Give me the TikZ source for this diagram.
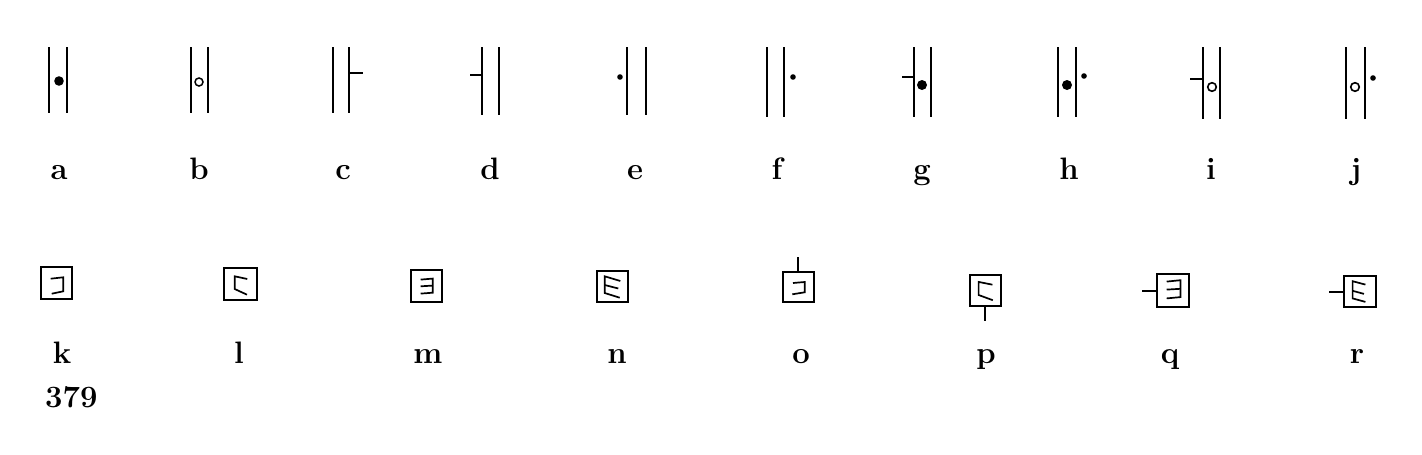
\documentclass[tikz,border=0pt]{standalone}
\begin{document}
\begin{tikzpicture}[x=1pt,y=-1pt,
  bar/.style={line width=2pt},
  tickline/.style={line width=1.8pt},
  sq/.style={line width=2pt},
  inr/.style={line width=1.7pt},
  lab/.style={font=\fontsize{31}{33}\selectfont\bfseries, anchor=base, inner sep=0pt}]
\useasboundingbox (0,0) rectangle (1422,455);
% ---------- top row ----------
% a
\draw[bar] (49,47) -- (49,113) (67,47) -- (67,113);
\fill (59,81) circle (4.8);
% b
\draw[bar] (191,47) -- (191,113) (208,47) -- (208,113);
\draw[line width=1.5pt] (199,82) circle (4);
% c
\draw[bar] (333,47) -- (333,113) (349,47) -- (349,113);
\draw[tickline] (349,73) -- (363,73);
% d
\draw[tickline] (470,75) -- (482,75);
\draw[bar] (482,47) -- (482,115) (499,47) -- (499,115);
% e
\fill (620,77) circle (2.8);
\draw[bar] (627,47) -- (627,115) (646,47) -- (646,115);
% f
\draw[bar] (767,47) -- (767,117) (784,47) -- (784,117);
\fill (793,77) circle (2.8);
% g
\draw[tickline] (902,77) -- (914,77);
\draw[bar] (914,47) -- (914,117) (931,47) -- (931,117);
\fill (922,85) circle (5);
% h
\draw[bar] (1058,47) -- (1058,117) (1076,47) -- (1076,117);
\fill (1067,85) circle (5);
\fill (1084,76) circle (2.8);
% i
\draw[tickline] (1190,79) -- (1203,79);
\draw[bar] (1203,47) -- (1203,119) (1220,47) -- (1220,119);
\draw[line width=1.6pt] (1212,87) circle (4.3);
% j
\draw[bar] (1346,47) -- (1346,119) (1365,47) -- (1365,119);
\draw[line width=1.6pt] (1355,87) circle (4.3);
\fill (1373,78) circle (2.8);
% top labels
\node[lab] (la) at (59,179) {a};
\node[lab] (lb) at (199,179) {b};
\node[lab] (lc) at (343,179) {c};
\node[lab] (ld) at (490,179) {d};
\node[lab] (le) at (635,179) {e};
\node[lab] (lf) at (777,179) {f};
\node[lab] (lg) at (922,179) {g};
\node[lab] (lh) at (1069,179) {h};
\node[lab] (li) at (1211,179) {i};
\node[lab] (lj) at (1356,179) {j};
% ---------- bottom row ----------
% k
\begin{scope}[shift={(41,267)}]
  \draw[sq] (0,0) rectangle (31,32);
  \draw[inr] (9.7,11.7) -- (22.3,10.3) -- (22.3,24.3) -- (10.7,26.7);
\end{scope}
% l
\begin{scope}[shift={(224,268)}]
  \draw[sq] (0,0) rectangle (33,32);
  \draw[inr] (23.3,11) -- (10.7,8.3) -- (10.7,21) -- (23,26.7);
\end{scope}
% m
\begin{scope}[shift={(411,270)}]
  \draw[sq] (0,0) rectangle (31,32);
  \draw[inr] (9.7,9.6) -- (21.7,8.6) -- (21.7,22.7) -- (9.7,23.6);
  \draw[inr] (9.7,16.3) -- (21.7,15.6);
\end{scope}
% n
\begin{scope}[shift={(597,271)}]
  \draw[sq] (0,0) rectangle (31,31);
  \draw[inr] (23.3,10) -- (7.7,5.3) -- (7.7,22) -- (22.7,26.7);
  \draw[inr] (7.7,14) -- (21.3,17.5);
\end{scope}
% o
\begin{scope}[shift={(783,272)}]
  \draw[sq] (0,0) rectangle (31,30);
  \draw[line width=1.5pt] (15,0) -- (15,-15);
  \draw[inr] (10,11) -- (21.7,10) -- (21.7,20.3) -- (9.3,22.3);
\end{scope}
% p
\begin{scope}[shift={(970,275)}]
  \draw[sq] (0,0) rectangle (31,31);
  \draw[line width=1.5pt] (14.8,31) -- (14.8,46);
  \draw[inr] (22.4,9.7) -- (8.6,6.9) -- (8.6,20) -- (22.8,25.2);
\end{scope}
% q
\begin{scope}[shift={(1157,274)}]
  \draw[sq] (0,0) rectangle (32,33);
  \draw[line width=1.5pt] (0,17.2) -- (-15,17.2);
  \draw[inr] (9.7,7.6) -- (23.4,6.2) -- (23.4,23.1) -- (9.7,24.4);
  \draw[inr] (9.7,15.6) -- (23.4,14.8);
\end{scope}
% r
\begin{scope}[shift={(1344,276)}]
  \draw[sq] (0,0) rectangle (32,31);
  \draw[line width=1.5pt] (0,16.2) -- (-15,16.2);
  \draw[inr] (21.4,8.6) -- (8.6,5.2) -- (8.6,22.4) -- (21.4,25.9);
  \draw[inr] (8.6,14.8) -- (20,17.9);
\end{scope}
% bottom labels
\node[lab] (lk) at (62,363) {k};
\node[lab] (ll) at (239,363) {l};
\node[lab] (lm) at (428,363) {m};
\node[lab] (ln) at (617,363) {n};
\node[lab] (lo) at (801,363) {o};
\node[lab] (lp) at (986,363) {p};
\node[lab] (lq) at (1170,363) {q};
\node[lab] (lr) at (1357,363) {r};
\node[lab, anchor=base west] (num) at (45,407) {379};
\end{tikzpicture}
\end{document}
